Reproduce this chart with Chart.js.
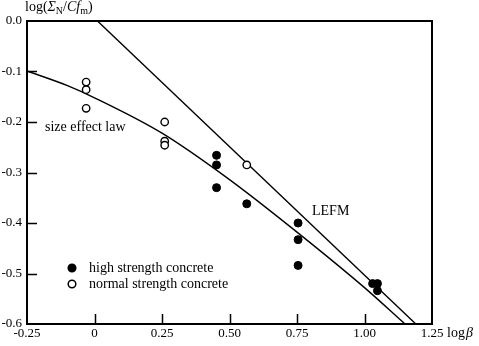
<!DOCTYPE html>
<html>
<head>
<meta charset="utf-8">
<script src="https://cdn.jsdelivr.net/npm/chart.js@4.4.0/dist/chart.umd.min.js"></script>
<style>
  html, body { margin: 0; padding: 0; background: #fff; }
  #wrap { width: 479px; height: 346px; }
</style>
</head>
<body>
<div id="wrap"><canvas id="chart" width="479" height="346"></canvas></div>
<script>
// tick values and labels
var xTicks = [-0.25, 0, 0.25, 0.5, 0.75, 1.0, 1.25];
var xTickLabels = ['-0.25', '0', '0.25', '0.50', '0.75', '1.00', '1.25'];
var yTicks = [0, -0.1, -0.2, -0.3, -0.4, -0.5, -0.6];
var yTickLabels = ['0.0', '-0.1', '-0.2', '-0.3', '-0.4', '-0.5', '-0.6'];

// high strength concrete (filled)
var highX = [0.452, 0.452, 0.452, 0.564, 0.754, 0.754, 0.754, 1.030, 1.048, 1.048];
var highY = [-0.266, -0.285, -0.330, -0.362, -0.400, -0.433, -0.484, -0.520, -0.520, -0.534];

// normal strength concrete (open)
var normalX = [-0.031, -0.031, -0.031, 0.260, 0.260, 0.260, 0.564];
var normalY = [-0.121, -0.136, -0.173, -0.200, -0.238, -0.246, -0.285];

// size effect law curve
var sizeX = [-0.25, -0.1, 0, 0.25, 0.5, 0.75, 1.0, 1.15];
var sizeY = [-0.099, -0.128, -0.152, -0.222, -0.314, -0.418, -0.528, -0.600];

// LEFM straight line
var lefmX = [0.011, 1.19];
var lefmY = [0, -0.6];

var FONT = '"Liberation Serif", "Times New Roman", serif';

function pts(xs, ys) {
  return xs.map(function (x, i) { return { x: x, y: ys[i] }; });
}

var decorations = {
  id: 'decorations',
  afterDraw: function (chart) {
    var ctx = chart.ctx;
    var a = chart.chartArea;
    var xs = chart.scales.x, ys = chart.scales.y;
    ctx.save();
    ctx.strokeStyle = '#000';
    ctx.lineWidth = 2;
    ctx.strokeRect(a.left, a.top, a.right - a.left, a.bottom - a.top);

    // inward ticks
    ctx.lineWidth = 1.5;
    ctx.beginPath();
    xTicks.slice(1, -1).forEach(function (v) {
      var px = Math.round(xs.getPixelForValue(v)) + 0.5;
      ctx.moveTo(px, a.bottom);
      ctx.lineTo(px, a.bottom - 10);
    });
    yTicks.slice(1, -1).forEach(function (v) {
      var py = Math.round(ys.getPixelForValue(v)) + 0.5;
      ctx.moveTo(a.left, py);
      ctx.lineTo(a.left + 10, py);
    });
    ctx.stroke();

    ctx.fillStyle = '#000';
    ctx.textBaseline = 'alphabetic';
    ctx.textAlign = 'left';

    // y axis title: log(Σ_N / Cf_m)
    var x = 25, base = 11;
    var parts = [
      ['log(', '14px ' + FONT, 0],
      ['\u03A3', 'italic 14px ' + FONT, 0],
      ['N', '10px ' + FONT, 3],
      ['/', '14px ' + FONT, 0],
      ['Cf', 'italic 14px ' + FONT, 0],
      ['m', '10px ' + FONT, 3],
      [')', '14px ' + FONT, 0]
    ];
    parts.forEach(function (p) {
      ctx.font = p[1];
      ctx.fillText(p[0], x, base + p[2]);
      x += ctx.measureText(p[0]).width;
    });

    // x axis title: log β
    ctx.font = '14px ' + FONT;
    ctx.fillText('log', 447, 337);
    var w = ctx.measureText('log').width;
    ctx.font = 'italic 14px ' + FONT;
    ctx.fillText('\u03B2', 447 + w + 1, 337);

    // curve labels
    ctx.font = '14px ' + FONT;
    ctx.fillText('size effect law', 45, 131);
    ctx.fillText('LEFM', 312, 215);

    // legend
    var items = [
      { label: chart.data.datasets[0].label, fill: '#000', y: 268 },
      { label: chart.data.datasets[1].label, fill: '#fff', y: 284 }
    ];
    items.forEach(function (it) {
      ctx.beginPath();
      ctx.arc(72, it.y, 3.8, 0, Math.PI * 2);
      ctx.fillStyle = it.fill;
      ctx.fill();
      ctx.lineWidth = 1.5;
      ctx.strokeStyle = '#000';
      ctx.stroke();
      ctx.fillStyle = '#000';
      ctx.font = '14px ' + FONT;
      ctx.fillText(it.label, 89, it.y + 4);
    });
    ctx.restore();
  }
};

var ctx = document.getElementById('chart').getContext('2d');
new Chart(ctx, {
  type: 'scatter',
  data: {
    datasets: [
      {
        label: 'high strength concrete',
        data: pts(highX, highY),
        backgroundColor: '#000',
        borderColor: '#000',
        pointRadius: 4,
        borderWidth: 1
      },
      {
        label: 'normal strength concrete',
        data: pts(normalX, normalY),
        backgroundColor: '#fff',
        borderColor: '#000',
        pointRadius: 3.7,
        borderWidth: 1.4
      },
      {
        label: 'size effect law',
        data: pts(sizeX, sizeY),
        showLine: true,
        pointRadius: 0,
        borderColor: '#000',
        borderWidth: 1.4,
        cubicInterpolationMode: 'monotone'
      },
      {
        label: 'LEFM',
        data: pts(lefmX, lefmY),
        showLine: true,
        pointRadius: 0,
        borderColor: '#000',
        borderWidth: 1.4
      }
    ]
  },
  options: {
    responsive: false,
    animation: false,
    devicePixelRatio: 1,
    layout: { padding: { left: 0, top: 21, right: 47, bottom: 0 } },
    plugins: { legend: { display: false }, tooltip: { enabled: false } },
    scales: {
      x: {
        type: 'linear',
        min: -0.25,
        max: 1.25,
        grid: { display: false, drawTicks: false },
        border: { display: false },
        afterFit: function (s) { s.height = 22; },
        afterBuildTicks: function (s) { s.ticks = xTicks.map(function (v) { return { value: v }; }); },
        ticks: {
          padding: 2,
          maxRotation: 0,
          autoSkip: false,
          color: '#000',
          font: { family: FONT, size: 13 },
          callback: function (v) { var i = xTicks.indexOf(v); return i >= 0 ? xTickLabels[i] : ''; }
        }
      },
      y: {
        type: 'linear',
        min: -0.6,
        max: 0,
        grid: { display: false, drawTicks: false },
        border: { display: false },
        afterFit: function (s) { s.width = 27; },
        afterBuildTicks: function (s) { s.ticks = yTicks.map(function (v) { return { value: v }; }); },
        ticks: {
          padding: 5,
          autoSkip: false,
          color: '#000',
          font: { family: FONT, size: 13 },
          callback: function (v) {
            var i = yTicks.findIndex(function (t) { return Math.abs(t - v) < 1e-9; });
            return i >= 0 ? yTickLabels[i] : '';
          }
        }
      }
    }
  },
  plugins: [decorations]
});
</script>
</body>
</html>
